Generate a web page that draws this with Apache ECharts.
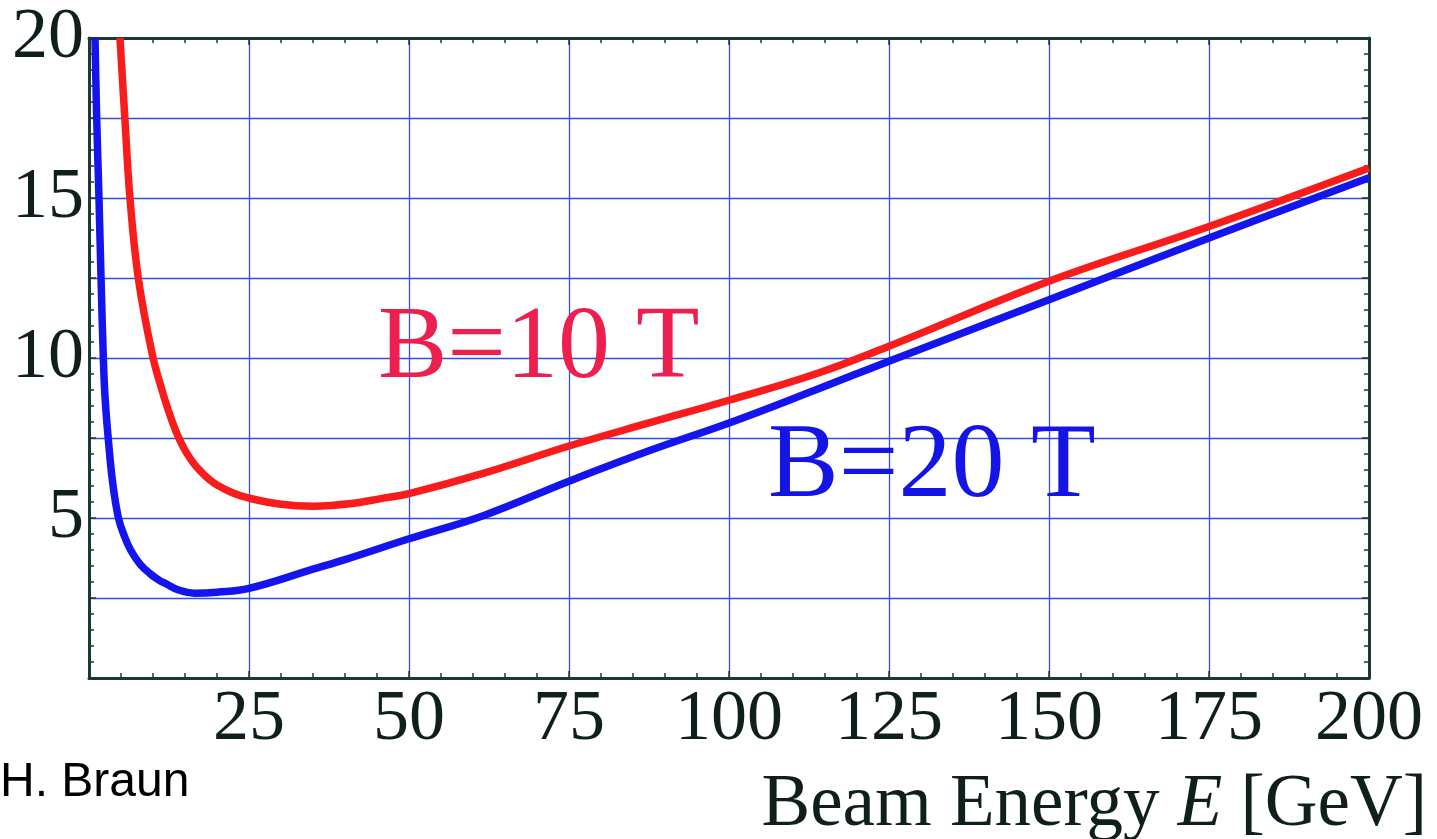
<!DOCTYPE html>
<html>
<head>
<meta charset="utf-8">
<script src="https://cdn.jsdelivr.net/npm/echarts@6/dist/echarts.min.js"></script>
<style>
  html, body { margin: 0; padding: 0; background: #ffffff; }
  #chart { width: 1437px; height: 839px; }
</style>
</head>
<body>
<div id="chart"></div>
<script>
// Beam energy E [GeV] and the curve values for the two field strengths
const energyB10 = [4.84, 5.6, 6.4, 7.7, 9.9, 11.4, 12.5, 13.6, 14.4, 15.2, 16.3, 17.5, 18.7, 20, 22.5, 25, 30, 35, 41, 46, 50, 61.7, 75, 87.5, 100, 113.5, 125, 150, 175, 200];
const valueB10  = [20, 17.5, 15, 12.5, 10.1, 9.0, 8.3, 7.7, 7.35, 7.05, 6.72, 6.45, 6.22, 6.03, 5.78, 5.62, 5.43, 5.37, 5.45, 5.62, 5.76, 6.4, 7.25, 7.97, 8.68, 9.5, 10.37, 12.4, 14.11, 15.94];

const energyB20 = [0.94, 1.2, 1.56, 1.88, 2.24, 2.5, 3.0, 3.7, 4.6, 5.5, 6.5, 8, 9.6, 11, 12, 14, 16.5, 20, 25, 35, 40, 50, 61.7, 75, 87.5, 100, 113.5, 125, 150, 175, 200];
const valueB20  = [20, 17.5, 15, 12.5, 10, 8.8, 7.5, 6.1, 5.0, 4.45, 4.0, 3.55, 3.25, 3.05, 2.95, 2.75, 2.65, 2.68, 2.8, 3.4, 3.7, 4.35, 5.08, 6.15, 7.1, 7.97, 9.0, 9.9, 11.82, 13.75, 15.63];

// Tick labels shown on the axes
const xTickLabels = [25, 50, 75, 100, 125, 150, 175, 200];
const yTickLabels = [5, 10, 15, 20];

const labelB10 = 'B=10 T';
const labelB20 = 'B=20 T';
const creditText = 'H. Braun';

const pairs = (xs, ys) => xs.map((x, i) => [x, ys[i]]);

const serif = '"Liberation Serif", "Times New Roman", serif';
const axisColor = '#1b3a31';
const gridColor = '#2f4ee8';

const chart = echarts.init(document.getElementById('chart'), null, { renderer: 'canvas' });

const baseX = {
  type: 'value', min: 0, max: 200, interval: 25,
  axisLine: { show: true, onZero: false, lineStyle: { color: axisColor, width: 3 } },
  axisTick: { show: true, inside: true, length: 7, lineStyle: { color: axisColor, width: 1.5 } },
  minorTick: { show: true, splitNumber: 5, length: 5, lineStyle: { color: axisColor, width: 1.5 } },
  minorSplitLine: { show: false }
};
const baseY = {
  type: 'value', min: 0, max: 20, interval: 2.5,
  axisLine: { show: true, onZero: false, lineStyle: { color: axisColor, width: 3 } },
  axisTick: { show: true, inside: true, length: 7, lineStyle: { color: axisColor, width: 1.5 } },
  minorTick: { show: true, splitNumber: 5, length: 5, lineStyle: { color: axisColor, width: 1.5 } },
  minorSplitLine: { show: false }
};

chart.setOption({
  animation: false,
  backgroundColor: '#ffffff',
  grid: { left: 89, right: 68, top: 38, bottom: 161, containLabel: false },
  xAxis: [
    Object.assign({}, baseX, {
      position: 'bottom',
      splitLine: { show: true, lineStyle: { color: gridColor, width: 1.3 } },
      axisLabel: {
        show: true, margin: 6, fontFamily: serif, fontSize: 72, color: '#0f1f19',
        formatter: v => (xTickLabels.indexOf(v) >= 0 ? String(v) : '')
      }
    }),
    Object.assign({}, baseX, {
      position: 'top',
      splitLine: { show: false },
      axisLabel: { show: false }
    })
  ],
  yAxis: [
    Object.assign({}, baseY, {
      position: 'left',
      splitLine: { show: true, lineStyle: { color: gridColor, width: 1.3 } },
      axisLabel: {
        show: true, margin: 5, fontFamily: serif, fontSize: 72, color: '#0f1f19',
        formatter: v => (yTickLabels.indexOf(v) >= 0 ? String(v) : '')
      }
    }),
    Object.assign({}, baseY, {
      position: 'right',
      splitLine: { show: false },
      axisLabel: { show: false }
    })
  ],
  series: [
    {
      name: labelB10, type: 'line', xAxisIndex: 0, yAxisIndex: 0,
      data: pairs(energyB10, valueB10),
      showSymbol: false, smooth: 0.4,
      lineStyle: { color: '#f81c1c', width: 7.5 },
      z: 3
    },
    {
      name: labelB20, type: 'line', xAxisIndex: 0, yAxisIndex: 0,
      data: pairs(energyB20, valueB20),
      showSymbol: false, smooth: 0.4,
      lineStyle: { color: '#1414ee', width: 7.5 },
      z: 4
    }
  ],
  graphic: [
    {
      type: 'text', x: 378, y: 350, z: 10,
      style: { text: labelB10, fontFamily: serif, fontSize: 104, fill: '#ec1f4f', align: 'left', verticalAlign: 'middle' }
    },
    {
      type: 'text', x: 768, y: 468, z: 10,
      style: { text: labelB20, fontFamily: serif, fontSize: 106, fill: '#1414e6', align: 'left', verticalAlign: 'middle' }
    },
    {
      type: 'text', x: 0, y: 783, z: 10,
      style: { text: creditText, fontFamily: '"Liberation Sans", Arial, sans-serif', fontSize: 48, fill: '#000000', align: 'left', verticalAlign: 'middle' }
    },
    {
      type: 'text', x: 1427, y: 806, z: 10,
      style: {
        text: 'Beam Energy {it|E} [GeV]',
        fontFamily: serif, fontSize: 73, fill: '#0f1f19', align: 'right', verticalAlign: 'middle',
        rich: { it: { fontFamily: serif, fontSize: 73, fontStyle: 'italic', fill: '#0f1f19' } }
      }
    }
  ]
});
</script>
</body>
</html>
